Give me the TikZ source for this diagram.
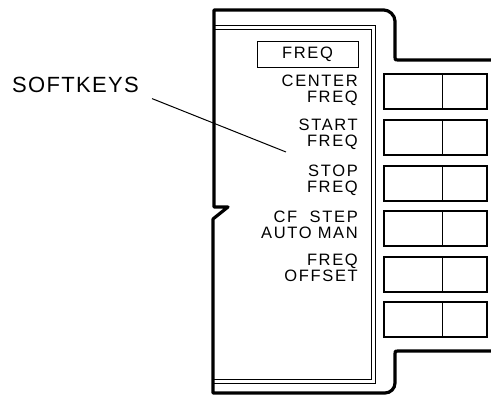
\documentclass[tikz,border=0pt]{standalone}
\usepackage{fontspec}
\setmainfont{Liberation Sans}[LetterSpace=10]
\usepackage{tikz}

\tikzset{
	keylabel/.style = {anchor = east, inner sep = 0, align = right,
		font = \fontsize{16.5}{16}\selectfont},
	softkey/.style = {line width = 2.2pt},
}

\begin{document}
\begin{tikzpicture}[x = 1pt, y = -1pt]
\useasboundingbox (0, 0) rectangle (491, 395);
% outer bezel
\draw[line width = 3.2pt, line join = round]
	(493, 60) -- (398, 60) .. controls (395, 60) .. (395, 57) --
	(395, 21) .. controls (395, 15) and (389, 10) ..
	(384, 10) -- (214, 10) -- (214, 207) -- (228, 207) -- (213, 219) --
	(213, 393) -- (385, 393) .. controls (390.5, 393) and (395, 388.5) ..
	(395, 383) -- (395, 354) .. controls (395, 351) ..
	(398, 351) -- (493, 351);
% screen edge
\draw[line width = 0.8pt] (214, 25) -- (375, 25) -- (375, 383) -- (214, 383);
\draw[line width = 0.8pt] (214, 29) -- (371, 29) -- (371, 379) -- (214, 379);
% menu title
\node[draw, line width = 0.9pt, minimum width = 101pt, minimum height = 26pt,
	inner sep = 0, font = \fontsize{16.5}{16}\selectfont] (title) at (307.5, 54) {FREQ};
% keys
\foreach \y in {74, 120, 166, 211, 257, 302} {
	\draw[softkey] (384, \y) rectangle (487, \y + 35);
	\draw[line width = 0.8pt] (442, \y) -- (442, \y + 35);
}
% key labels
\node[keylabel] (center) at (358, 90) {CENTER\\FREQ};
\node[keylabel] (start) at (358, 134) {START\\FREQ};
\node[keylabel] (stop) at (358, 180) {STOP\\FREQ};
\node[keylabel] (cfstep) at (358, 225) {CF\ \ STEP\\AUTO MAN};
\node[keylabel] (offset) at (358, 268) {FREQ\\OFFSET};
% callout
\node[anchor = base west, inner sep = 0, font = \fontsize{22}{22}\selectfont\addfontfeature{LetterSpace=6}]
	(softkeys) at (12, 93) {SOFTKEYS};
\coordinate (tip) at (286, 152);
\draw[line width = 1pt, shorten <= 14pt] (softkeys.south east) -- (tip);
\end{tikzpicture}
\end{document}
